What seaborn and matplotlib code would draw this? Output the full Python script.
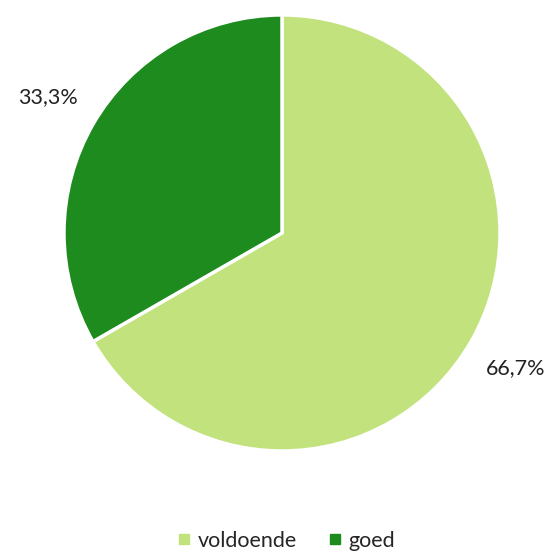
import matplotlib
matplotlib.use("Agg")
import matplotlib.pyplot as plt
from matplotlib.lines import Line2D
import seaborn as sns

categories = ["voldoende", "goed"]
values = [66.7, 33.3]
colors = ["#C1E27D", "#1E8B1E"]

sns.set_theme(style="white")
plt.rcParams["font.family"] = ["Lato", "DejaVu Sans"]

fig = plt.figure(figsize=(5.52, 5.52), dpi=100)
ax = fig.add_axes([0.1159, 0.183, 0.7899, 0.7899])

def fmt(p):
    return f"{p:.1f}%".replace(".", ",")

wedges, texts = ax.pie(values, colors=colors, startangle=90, counterclock=False,
                       wedgeprops=dict(edgecolor="white", linewidth=2.5),
                       labels=[fmt(v) for v in values], labeldistance=1.24,
                       textprops=dict(fontsize=15.5, color="#222222"))
for t in texts:
    t.set_horizontalalignment("center")
ax.set_xlim(-1, 1)
ax.set_ylim(-1, 1)
ax.set_aspect("equal")

handles = [Line2D([0], [0], marker="s", linestyle="", markersize=7,
                  markerfacecolor=c, markeredgecolor=c) for c in colors]
fig.legend(handles, categories, loc="center", bbox_to_anchor=(0.513, 0.02),
           ncol=2, frameon=False, fontsize=15.5, handletextpad=0.0,
           columnspacing=1.2, handlelength=1.2)

fig.savefig("out.png", dpi=100)
